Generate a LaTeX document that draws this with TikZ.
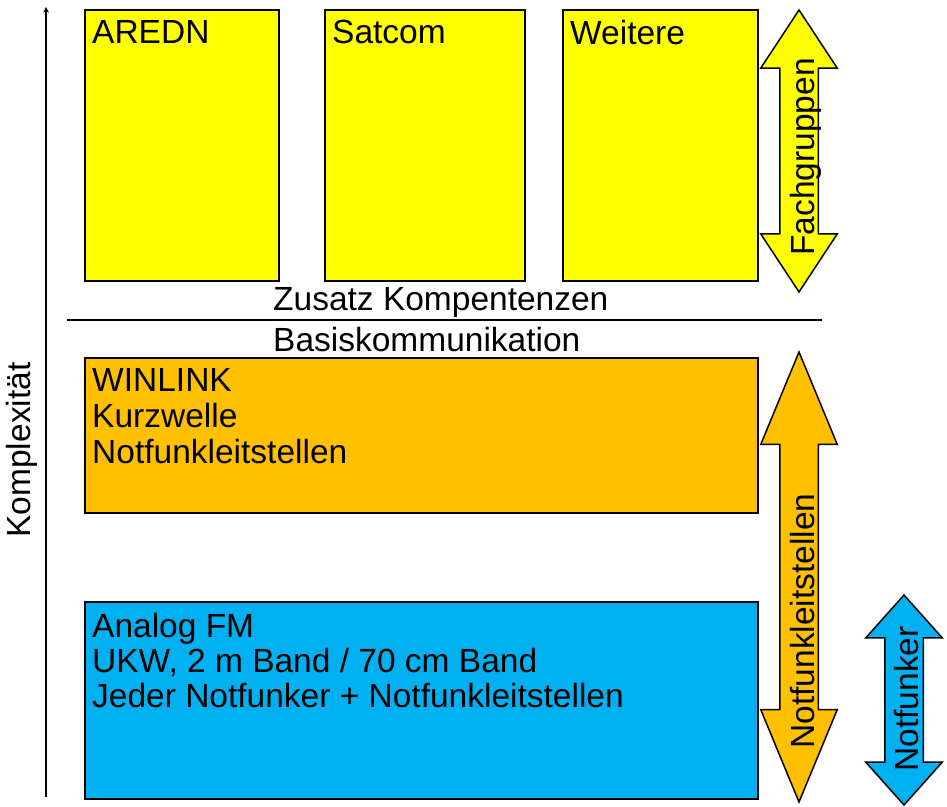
\documentclass[tikz,border=0pt]{standalone}
\usepackage{fontspec}
\setmainfont{Liberation Sans}
\usepackage{tikz}
\usetikzlibrary{shapes.arrows, arrows, positioning}
\definecolor{gelb}{HTML}{FFFF00}
\definecolor{orange}{HTML}{FFC000}
\definecolor{blau}{HTML}{00B0F0}
\newcommand{\grossschrift}{\fontsize{33.5}{36}\selectfont}
\tikzstyle{fachbox} = [rectangle, draw=black, line width=1.5pt, outer sep=0pt, fill=gelb, minimum height=271pt]
\tikzstyle{basisbox} = [rectangle, draw=black, line width=1.5pt, outer sep=0pt, minimum width=673pt]
\tikzstyle{boxtext} = [anchor=north west, inner xsep=7pt, inner ysep=10pt, align=left, font=\grossschrift]
\tikzstyle{doppelpfeil} = [double arrow, draw=black, line width=1.5pt, rotate=90, inner xsep=0pt, inner ysep=18.5pt, double arrow head extend=19pt]
\tikzstyle{pfeiltext} = [rotate=90, inner sep=0pt, font=\grossschrift]
\tikzstyle{arrow} = [line width=1.5pt,->,>=stealth]

\begin{document}
\begin{tikzpicture}[x=1pt, y=-1pt]
	\useasboundingbox (0,0) rectangle (947,806);
	% Fachgruppen oben
	\node (aredn) [fachbox, anchor=north west, minimum width=194pt, label={[boxtext]north west:AREDN}] at (85,10) {};
	\node (satcom) [fachbox, right=46pt of aredn, minimum width=200pt, label={[boxtext]north west:Satcom}] {};
	\node (weitere) [fachbox, right=38pt of satcom, minimum width=195pt, label={[boxtext]north west:Weitere}] {};
	
	% Trennlinie
	\coordinate (trennl) at (67,320);
	\coordinate (trennr) at (822,320);
	\draw [line width=1.5pt] (trennl) -- (trennr);
	\node (zusatz) [anchor=base west, inner sep=0pt, font=\grossschrift] at (273,310) {Zusatz Kompentenzen};
	\node (basis) [anchor=base west, inner sep=0pt, font=\grossschrift] at (273,351) {Basiskommunikation};
	
	% Basiskommunikation
	\node (winlink) [basisbox, below=77pt of aredn.south west, anchor=north west, minimum height=155pt, fill=orange,
		label={[boxtext]north west:WINLINK\\Kurzwelle\\Notfunkleitstellen}] {};
	\node (analog) [basisbox, below=89pt of winlink.south west, anchor=north west, minimum height=197pt, fill=blau,
		label={[boxtext, font=\fontsize{33.5}{35}\selectfont, inner ysep=11pt]north west:Analog FM\\UKW, 2 m Band / 70 cm Band\\Jeder Notfunker + Notfunkleitstellen}] {};
	
	% Doppelpfeile
	\node (fach) [doppelpfeil, fill=gelb, minimum height=282pt, double arrow tip angle=66.7] at (799,151) {};
	\node (nfl) [doppelpfeil, fill=orange, minimum height=450pt, double arrow tip angle=45] at (799,577) {};
	\node (nf) [doppelpfeil, fill=blau, minimum height=210pt, double arrow tip angle=83.5] at (904,700) {};
	\node (fachtxt) [pfeiltext] at (806,157) {Fachgruppen};
	\node (nfltxt) [pfeiltext] at (803,621) {Notfunkleitstellen};
	\node (nftxt) [pfeiltext] at (907,699) {Notfunker};
	
	% Achse
	\coordinate (achseu) at (46,797);
	\coordinate (achseo) at (46,7);
	\draw [arrow] (achseu) -- (achseo);
	\node (komplex) [pfeiltext] at (22,450) {Komplexität};
\end{tikzpicture}
\end{document}
